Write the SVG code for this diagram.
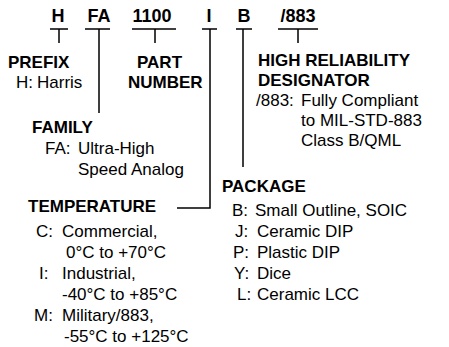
<svg xmlns="http://www.w3.org/2000/svg" width="449" height="347" viewBox="0 0 449 347">
<style>
.h{font-family:"Liberation Sans",Arial,sans-serif;font-size:18px;font-weight:bold;fill:#000;text-anchor:middle}
.b{font-family:"Liberation Sans",Arial,sans-serif;font-size:17px;font-weight:bold;fill:#000}
.t{font-family:"Liberation Sans",Arial,sans-serif;font-size:17px;fill:#000}
.c{stroke:#000;stroke-width:1.5;fill:none}
</style>
<rect width="449" height="347" fill="#fff"/>
<g id="header">
<text class="h" x="58" y="22">H</text>
<text class="h" x="99" y="22">FA</text>
<text class="h" x="152" y="22">1100</text>
<text class="h" x="209" y="22">I</text>
<text class="h" x="244" y="22">B</text>
<text class="h" x="298" y="22">/883</text>
</g>
<g id="connectors">
<path class="c" d="M50 29H68M59 29V43"/>
<path class="c" d="M85 29H110M99 29V113"/>
<path class="c" d="M132 29H176M155 29V43"/>
<path class="c" d="M202 29H217M210 29V208H177"/>
<path class="c" d="M236 29H252M243 29V167"/>
<path class="c" d="M278 29H318M298 29V43"/>
</g>
<g id="prefix">
<text class="b" x="8" y="68">PREFIX</text>
<text class="t" x="16" y="88">H:</text>
<text class="t" x="37" y="88">Harris</text>
</g>
<g id="part-number">
<text class="b" x="137" y="68">PART</text>
<text class="b" x="128" y="88">NUMBER</text>
</g>
<g id="family">
<text class="b" x="32" y="133">FAMILY</text>
<text class="t" x="45" y="154">FA:</text>
<text class="t" x="78" y="154">Ultra-High</text>
<text class="t" x="78" y="175">Speed Analog</text>
</g>
<g id="temperature">
<text class="b" x="28" y="212">TEMPERATURE</text>
<text class="t" x="36" y="237">C:</text>
<text class="t" x="62" y="237">Commercial,</text>
<text class="t" x="66" y="258">0°C to +70°C</text>
<text class="t" x="39" y="279">I:</text>
<text class="t" x="62" y="279">Industrial,</text>
<text class="t" x="62" y="300">-40°C to +85°C</text>
<text class="t" x="34" y="321">M:</text>
<text class="t" x="62" y="321">Military/883,</text>
<text class="t" x="64" y="342">-55°C to +125°C</text>
</g>
<g id="high-reliability">
<text class="b" x="258" y="66">HIGH RELIABILITY</text>
<text class="b" x="258" y="86">DESIGNATOR</text>
<text class="t" x="256" y="106">/883:</text>
<text class="t" x="301" y="106">Fully Compliant</text>
<text class="t" x="301" y="126">to MIL-STD-883</text>
<text class="t" x="301" y="146">Class B/QML</text>
</g>
<g id="package">
<text class="b" x="222" y="192">PACKAGE</text>
<text class="t" x="232" y="216">B:</text>
<text class="t" x="255" y="216">Small Outline, SOIC</text>
<text class="t" x="235" y="237">J:</text>
<text class="t" x="257" y="237">Ceramic DIP</text>
<text class="t" x="233" y="258">P:</text>
<text class="t" x="257" y="258">Plastic DIP</text>
<text class="t" x="234" y="279">Y:</text>
<text class="t" x="257" y="279">Dice</text>
<text class="t" x="237" y="300">L:</text>
<text class="t" x="257" y="300">Ceramic LCC</text>
</g>
</svg>
